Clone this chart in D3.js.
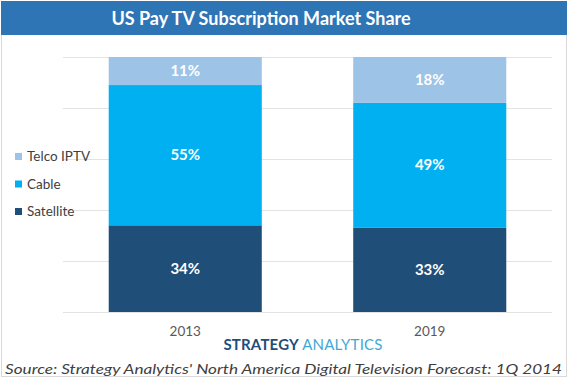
<!DOCTYPE html>
<html>
<head>
<meta charset="utf-8">
<script src="https://cdn.jsdelivr.net/npm/d3@7"></script>
<style>
  body { margin: 0; background: #fff; }
  svg { display: block; font-family: Lato, "Open Sans", sans-serif; }
</style>
</head>
<body>
<div id="chart"></div>
<script>
const years = ['2013', '2019'];
const seriesNames = ['Satellite', 'Cable', 'Telco IPTV'];
const satellite = [34, 33];
const cable = [55, 49];
const telco = [11, 18];
const colors = ['#1F4E79', '#00B0F0', '#9DC3E6'];
const legendOrder = ['Telco IPTV', 'Cable', 'Satellite'];

const width = 569, height = 379;
const plot = { left: 63, right: 552, top: 57, bottom: 312 };

const svg = d3.select('#chart').append('svg')
  .attr('width', width)
  .attr('height', height);

// frame + title band
svg.append('rect')
  .attr('x', 1.5).attr('y', 1.5)
  .attr('width', 565).attr('height', 375)
  .attr('fill', '#fff').attr('stroke', '#d9d9d9');

svg.append('rect')
  .attr('x', 1).attr('y', 1)
  .attr('width', 566).attr('height', 34)
  .attr('fill', '#2E75B6');

svg.append('text')
  .attr('x', 261).attr('y', 25)
  .attr('text-anchor', 'middle')
  .attr('fill', '#fff')
  .attr('font-size', 18)
  .attr('font-weight', 700)
  .text('US Pay TV Subscription Market Share');

const table = years.map((year, i) => ({
  year,
  Satellite: satellite[i],
  Cable: cable[i],
  'Telco IPTV': telco[i]
}));

const stacked = d3.stack().keys(seriesNames)(table);

const x = d3.scaleBand()
  .domain(years)
  .range([plot.left, plot.right])
  .paddingInner(0.374)
  .paddingOuter(0.187);

const y = d3.scaleLinear()
  .domain([0, 100])
  .range([plot.bottom, plot.top]);

const color = d3.scaleOrdinal().domain(seriesNames).range(colors);

// gridlines
svg.append('g')
  .selectAll('line')
  .data(y.ticks(4))
  .join('line')
  .attr('x1', plot.left).attr('x2', plot.right)
  .attr('y1', d => Math.round(y(d)) + 0.5)
  .attr('y2', d => Math.round(y(d)) + 0.5)
  .attr('stroke', '#e3e3e3')
  .attr('stroke-width', 1.2);

// bars
const layers = svg.append('g')
  .selectAll('g')
  .data(stacked)
  .join('g')
  .attr('fill', d => color(d.key));

layers.selectAll('rect')
  .data(d => d)
  .join('rect')
  .attr('x', d => x(d.data.year))
  .attr('width', x.bandwidth())
  .attr('y', d => y(d[1]))
  .attr('height', d => y(d[0]) - y(d[1]));

layers.selectAll('text')
  .data(d => d)
  .join('text')
  .attr('x', d => x(d.data.year) + x.bandwidth() / 2)
  .attr('y', d => (y(d[0]) + y(d[1])) / 2 + 5)
  .attr('text-anchor', 'middle')
  .attr('fill', '#fff')
  .attr('font-size', 15)
  .attr('font-weight', 700)
  .text(d => (d[1] - d[0]) + '%');

// x axis labels
const xAxis = svg.append('g')
  .attr('transform', `translate(0,${plot.bottom})`)
  .call(d3.axisBottom(x).tickSize(0).tickPadding(14));
xAxis.select('.domain').remove();
xAxis.selectAll('text')
  .attr('font-family', 'Lato, sans-serif')
  .attr('font-size', 13.5)
  .attr('fill', '#595959');

// legend
const legend = svg.append('g')
  .selectAll('g')
  .data(legendOrder)
  .join('g')
  .attr('transform', (d, i) => `translate(15,${153 + i * 27.5})`);

legend.append('rect')
  .attr('width', 7).attr('height', 7)
  .attr('fill', d => color(d));

legend.append('text')
  .attr('x', 12).attr('y', 8)
  .attr('font-size', 13.5)
  .attr('fill', '#404040')
  .text(d => d);

// logo
const logo = svg.append('text')
  .attr('x', 303).attr('y', 350)
  .attr('text-anchor', 'middle')
  .attr('font-size', 15)
  .attr('font-weight', 700)
  .attr('letter-spacing', 0.2);
logo.append('tspan').attr('fill', '#1F4E79').text('STRATEGY ');
logo.append('tspan').attr('fill', '#3FA9D5').attr('font-weight', 400).text('ANALYTICS');

// source
svg.append('text')
  .attr('x', 5).attr('y', 374)
  .attr('font-size', 13.5)
  .attr('font-style', 'italic')
  .attr('fill', '#404040')
  .attr('textLength', 557)
  .attr('lengthAdjust', 'spacingAndGlyphs')
  .text("Source: Strategy Analytics' North America Digital Television Forecast: 1Q 2014");
</script>
</body>
</html>
